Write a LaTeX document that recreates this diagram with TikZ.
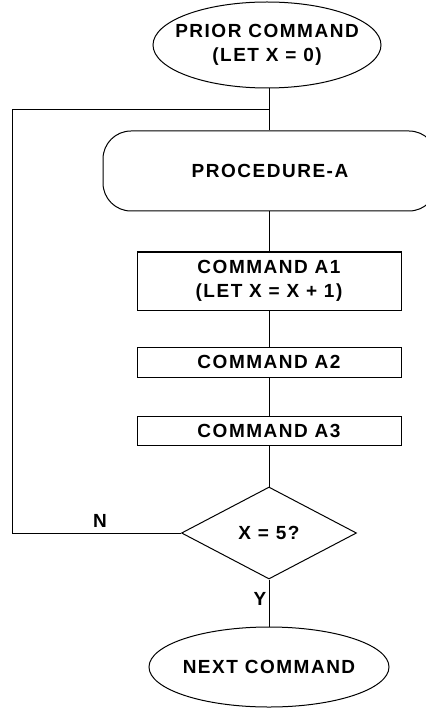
\documentclass[tikz,border=0pt]{standalone}
\usepackage{fontspec}
\newfontfamily\chartfont{Liberation Sans}[LetterSpace=8]
\usetikzlibrary{shapes.geometric}

\begin{document}
\begin{tikzpicture}[x=1pt, y=-1pt, line width=1pt,
    every node/.style={font=\chartfont\bfseries\fontsize{19}{24}\selectfont, align=center, inner sep=0pt},
    terminal/.style={draw, ellipse, inner sep=-20pt},
    stepbox/.style={draw, rectangle, minimum width=264pt},
    decision/.style={draw, diamond, minimum width=175pt, minimum height=92pt}]
    \useasboundingbox (0, 0) rectangle (425, 708);

    \node[terminal, minimum width=228pt, minimum height=86pt] (prior) at (267, 45) {PRIOR COMMAND\\(LET X = 0)};

    \node[draw, rounded corners=28pt, minimum width=334pt, minimum height=80pt] (proc) at (270, 171) {PROCEDURE-A};

    \node[stepbox, minimum height=58pt] (a1) at (269, 281) {COMMAND A1\\(LET X = X + 1)};
    \node[stepbox, minimum height=30pt] (a2) at (269, 362) {COMMAND A2};
    \node[stepbox, minimum height=29pt] (a3) at (269, 430.5) {COMMAND A3};

    \node[decision] (test) at (269, 533) {X = 5?};

    \node[terminal, minimum width=240pt, minimum height=80pt] (next) at (269, 667) {NEXT COMMAND};

    \coordinate (loopl) at (12, 110);
    \coordinate (join) at (a1.north |- loopl);

    \draw (join |- prior.south) -- (join |- proc.north);
    \draw (join |- proc.south) -- (a1.north);
    \draw (a1.south) -- (a2.north);
    \draw (a2.south) -- (a3.north);
    \draw (a3.south) -- (test.north);
    \draw (test.south) -- (next.north);

    \draw (test.west) -| (loopl) -- (join);

    \node (nlabel) at (100, 521) {N};
    \node (ylabel) at (260, 599) {Y};
\end{tikzpicture}
\end{document}
